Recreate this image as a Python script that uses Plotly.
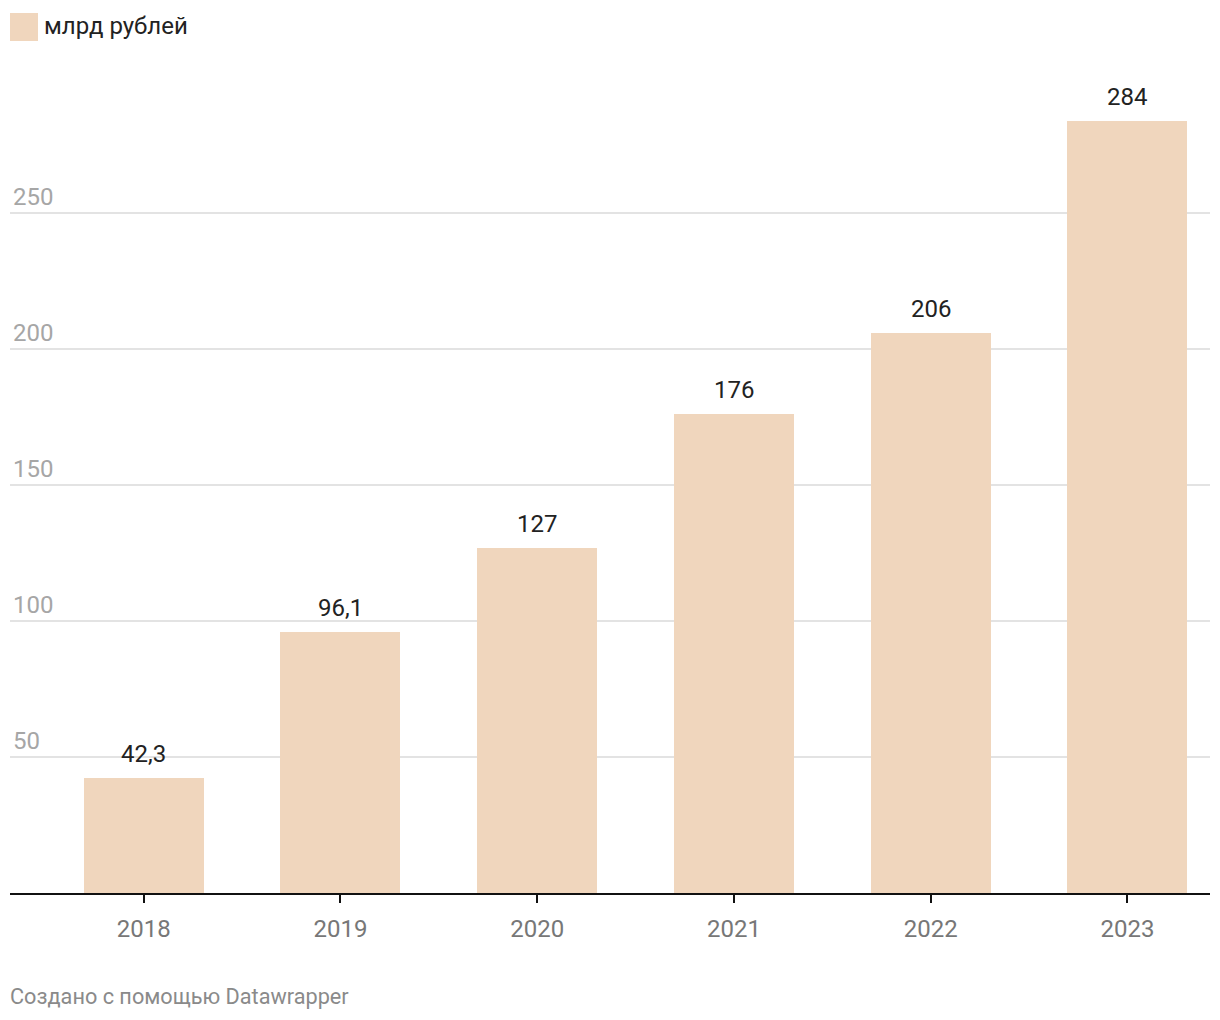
import plotly.graph_objects as go

years = ["2018", "2019", "2020", "2021", "2022", "2023"]
values = [42.3, 96.1, 127, 176, 206, 284]
value_labels = ["42,3", "96,1", "127", "176", "206", "284"]
y_ticks = [50, 100, 150, 200, 250]
series_name = "млрд рублей"
footer = "Создано с помощью Datawrapper"

BAR = "#f0d6bd"
FONT = "Roboto"
PH = 816  # plot height in px

fig = go.Figure()
fig.add_trace(go.Bar(
    x=years, y=values, marker=dict(color=BAR, line=dict(width=0)),
    width=0.61, showlegend=False, hoverinfo="skip",
))

for i, (v, lab) in enumerate(zip(values, value_labels)):
    fig.add_annotation(x=i, y=v, xref="x", yref="y", text=lab, showarrow=False,
                       yanchor="bottom", yshift=8,
                       font=dict(family=FONT, size=24, color="#222222"))

# legend swatch + label
fig.add_shape(type="rect", xref="paper", yref="paper",
              x0=0, x1=28/1200, y0=1 + (78-42)/PH, y1=1 + (78-14)/PH,
              fillcolor=BAR, line=dict(width=0))
fig.add_annotation(xref="paper", yref="paper", x=32/1200, y=1 + (78-27)/PH,
                   text=series_name, showarrow=False, xanchor="left", yanchor="middle",
                   font=dict(family=FONT, size=24, color="#222222"))
fig.add_annotation(xref="paper", yref="paper", x=-2/1200, y=-(997-894)/PH,
                   text=footer, showarrow=False, xanchor="left", yanchor="middle",
                   font=dict(family=FONT, size=21.7, color="#8a8a8a"))

fig.update_layout(
    width=1220, height=1020,
    margin=dict(l=2, r=18, t=69, b=135),
    paper_bgcolor="white", plot_bgcolor="white",
    font=dict(family=FONT),
    bargap=0,
)
fig.update_xaxes(
    type="category", range=[-0.68, 5.42],
    showline=True, linecolor="#111111", linewidth=2,
    ticks="outside", ticklen=8, tickwidth=2, tickcolor="#111111",
    ticklabelstandoff=5,
    tickfont=dict(family=FONT, size=24, color="#777777"),
    showgrid=False, fixedrange=True,
)
fig.update_yaxes(
    range=[0, 300], tickvals=y_ticks, ticktext=[str(t) for t in y_ticks],
    ticklabelposition="inside top",
    tickfont=dict(family=FONT, size=24, color="#a6a6a6"),
    showgrid=True, gridcolor="#e3e3e3", gridwidth=1.5,
    zeroline=False, showline=False, ticks="",
)

fig.write_html("out.html")
